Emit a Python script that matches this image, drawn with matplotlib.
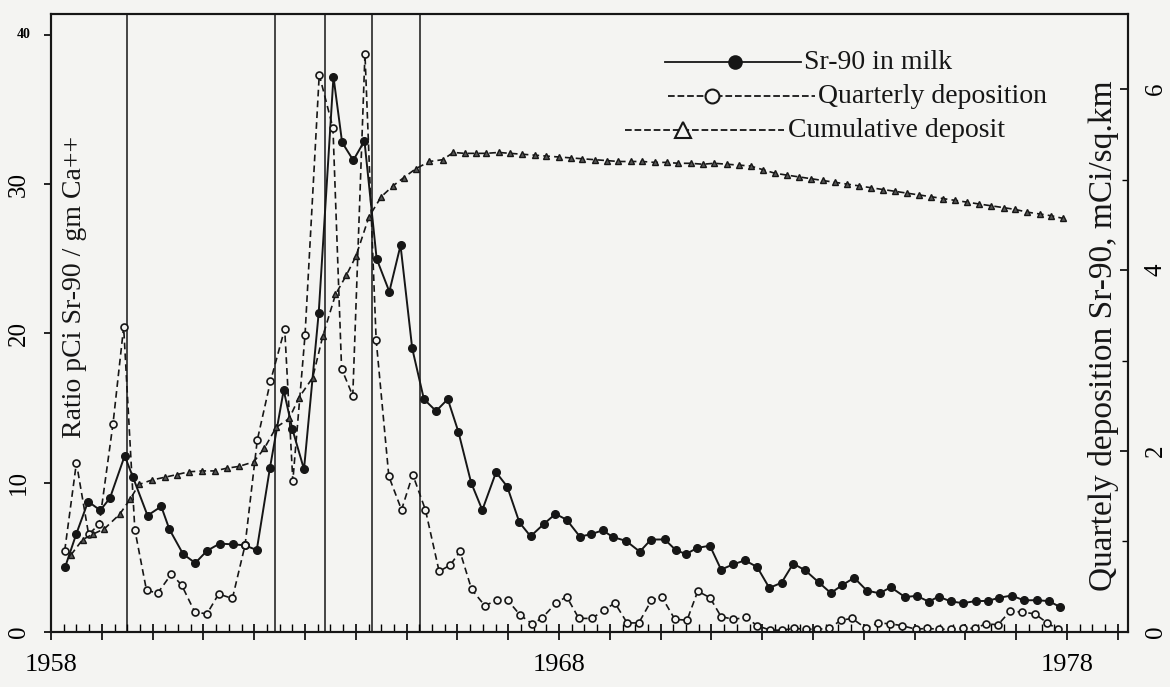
import numpy as np
import matplotlib.pyplot as plt
from matplotlib.lines import Line2D
from matplotlib.ticker import MultipleLocator

plt.rcParams['font.family'] = ['Liberation Serif', 'DejaVu Serif']

# Sr-90 in milk, pCi Sr-90 / gm Ca++ (left axis)
milk_year = [1958.28, 1958.50, 1958.73, 1958.97, 1959.16, 1959.45, 1959.61, 1959.90,
             1960.17, 1960.33, 1960.60, 1960.84, 1961.07, 1961.32, 1961.58, 1961.81,
             1962.05, 1962.31, 1962.58, 1962.75, 1962.98, 1963.27, 1963.56, 1963.73,
             1963.95, 1964.17, 1964.41, 1964.66, 1964.88, 1965.11, 1965.34, 1965.58,
             1965.81, 1966.02, 1966.27, 1966.49, 1966.76, 1966.98, 1967.22, 1967.44,
             1967.70, 1967.93, 1968.15, 1968.41, 1968.62, 1968.86, 1969.06, 1969.32,
             1969.59, 1969.81, 1970.08, 1970.30, 1970.50, 1970.72, 1970.97, 1971.19,
             1971.43, 1971.66, 1971.90, 1972.14, 1972.38, 1972.61, 1972.85, 1973.11,
             1973.35, 1973.58, 1973.81, 1974.06, 1974.31, 1974.53, 1974.81, 1975.04,
             1975.28, 1975.47, 1975.71, 1975.95, 1976.20, 1976.44, 1976.67, 1976.91,
             1977.15, 1977.40, 1977.64, 1977.86]
milk_ratio = [4.37, 6.59, 8.74, 8.15, 8.97, 11.8, 10.4, 7.80, 8.41, 6.88,
              5.22, 4.62, 5.44, 5.92, 5.87, 5.81, 5.49, 11.0, 16.2, 13.6,
              10.9, 21.4, 37.2, 32.8, 31.6, 32.9, 25.0, 22.8, 25.9, 19.0,
              15.6, 14.8, 15.6, 13.4, 10.0, 8.17, 10.7, 9.74, 7.34, 6.41,
              7.23, 7.91, 7.52, 6.39, 6.54, 6.81, 6.36, 6.10, 5.38, 6.19,
              6.20, 5.48, 5.22, 5.63, 5.78, 4.18, 4.53, 4.80, 4.35, 2.95,
              3.30, 4.58, 4.12, 3.33, 2.61, 3.15, 3.63, 2.77, 2.59, 3.00,
              2.34, 2.42, 2.03, 2.37, 2.05, 1.93, 2.07, 2.08, 2.30, 2.44,
              2.12, 2.13, 2.07, 1.68]

# quarterly deposition, mCi/sq.km (right axis)
dep_year = [1958.27, 1958.50, 1958.74, 1958.95, 1959.22, 1959.43, 1959.65, 1959.88,
            1960.10, 1960.37, 1960.57, 1960.83, 1961.07, 1961.30, 1961.57, 1961.82,
            1962.06, 1962.32, 1962.60, 1962.76, 1963.00, 1963.28, 1963.55, 1963.72,
            1963.94, 1964.18, 1964.40, 1964.65, 1964.90, 1965.12, 1965.37, 1965.64,
            1965.86, 1966.05, 1966.28, 1966.54, 1966.77, 1966.99, 1967.23, 1967.47,
            1967.66, 1967.94, 1968.15, 1968.39, 1968.65, 1968.88, 1969.10, 1969.34,
            1969.57, 1969.82, 1970.02, 1970.28, 1970.52, 1970.73, 1970.97, 1971.19,
            1971.43, 1971.68, 1971.90, 1972.16, 1972.39, 1972.63, 1972.86, 1973.08,
            1973.32, 1973.55, 1973.77, 1974.04, 1974.28, 1974.52, 1974.75, 1975.03,
            1975.24, 1975.48, 1975.72, 1975.95, 1976.19, 1976.40, 1976.64, 1976.88,
            1977.11, 1977.37, 1977.61, 1977.82]
dep_quarterly = [0.90, 1.87, 1.08, 1.19, 2.30, 3.37, 1.13, 0.46, 0.43, 0.64,
                 0.52, 0.22, 0.20, 0.42, 0.37, 0.96, 2.12, 2.77, 3.35, 1.67,
                 3.28, 6.16, 5.57, 2.91, 2.61, 6.39, 3.23, 1.72, 1.35, 1.74,
                 1.35, 0.67, 0.74, 0.89, 0.47, 0.29, 0.35, 0.35, 0.19, 0.09,
                 0.15, 0.32, 0.39, 0.15, 0.15, 0.24, 0.32, 0.10, 0.10, 0.35,
                 0.39, 0.14, 0.13, 0.45, 0.38, 0.17, 0.14, 0.16, 0.07, 0.02,
                 0.02, 0.04, 0.03, 0.03, 0.04, 0.13, 0.15, 0.04, 0.10, 0.09,
                 0.07, 0.03, 0.04, 0.03, 0.03, 0.04, 0.04, 0.09, 0.08, 0.23,
                 0.22, 0.20, 0.10, 0.03]

# cumulative deposit (right axis)
cum_year = [1958.39, 1958.62, 1958.82, 1959.05, 1959.35, 1959.56, 1959.73, 1959.99,
            1960.24, 1960.48, 1960.71, 1960.97, 1961.22, 1961.46, 1961.70, 1961.99,
            1962.20, 1962.43, 1962.69, 1962.88, 1963.15, 1963.35, 1963.60, 1963.81,
            1964.00, 1964.26, 1964.50, 1964.73, 1964.94, 1965.18, 1965.45, 1965.71,
            1965.92, 1966.14, 1966.37, 1966.57, 1966.81, 1967.04, 1967.28, 1967.52,
            1967.75, 1967.99, 1968.23, 1968.46, 1968.70, 1968.94, 1969.17, 1969.41,
            1969.64, 1969.88, 1970.12, 1970.35, 1970.59, 1970.83, 1971.06, 1971.30,
            1971.54, 1971.77, 1972.01, 1972.25, 1972.48, 1972.72, 1972.96, 1973.19,
            1973.43, 1973.67, 1973.91, 1974.14, 1974.38, 1974.62, 1974.85, 1975.09,
            1975.33, 1975.56, 1975.80, 1976.04, 1976.27, 1976.51, 1976.75, 1976.98,
            1977.22, 1977.46, 1977.69, 1977.93]
cum_deposit = [0.85, 1.02, 1.08, 1.14, 1.30, 1.47, 1.63, 1.68, 1.71, 1.74,
               1.77, 1.78, 1.78, 1.81, 1.83, 1.88, 2.03, 2.26, 2.36, 2.59,
               2.81, 3.27, 3.73, 3.94, 4.15, 4.59, 4.81, 4.93, 5.02, 5.12,
               5.20, 5.22, 5.30, 5.29, 5.29, 5.29, 5.30, 5.29, 5.28, 5.27,
               5.26, 5.25, 5.24, 5.23, 5.22, 5.21, 5.20, 5.20, 5.20, 5.19,
               5.19, 5.18, 5.18, 5.17, 5.18, 5.17, 5.16, 5.15, 5.11, 5.07,
               5.05, 5.03, 5.01, 4.99, 4.97, 4.95, 4.93, 4.91, 4.89, 4.87,
               4.85, 4.83, 4.81, 4.79, 4.77, 4.75, 4.73, 4.71, 4.69, 4.67,
               4.64, 4.62, 4.60, 4.57]

event_years = [1959.50, 1962.41, 1963.39, 1964.32, 1965.26]
label_years = [1958, 1968, 1978]

BG = '#f4f4f2'
INK = '#161616'

fig = plt.figure(figsize=(11.7, 6.87), dpi=100, facecolor=BG)
ax = fig.add_axes([0.0436, 0.0801, 0.9205, 0.8995])
ax.set_facecolor(BG)
ax2 = ax.twinx()

for yr in event_years:
    ax.axvline(yr, color=INK, lw=1.1, zorder=1)

ax.plot(milk_year, milk_ratio, '-o', color=INK, lw=1.4, ms=5.5, mfc=INK, zorder=4)
ax2.plot(dep_year, dep_quarterly, linestyle='--', dashes=(4, 2.5), marker='o',
         color=INK, lw=1.2, ms=5, mfc=BG, mew=1.2)
ax2.plot(cum_year, cum_deposit, linestyle='--', dashes=(4, 2.5), marker='^',
         color=INK, lw=1.2, ms=4.5, mfc='#555555', mew=1.0)

ax.set_xlim(1958, 1979.2)
ax.set_ylim(0, 41.4)
ax2.set_ylim(0, 6.83)

# x ticks: years with quarter minor ticks
years = np.arange(1958, 1980)
ax.set_xticks(years)
ax.set_xticklabels([str(y) if y in label_years else '' for y in years], fontsize=19)
ax.xaxis.set_minor_locator(MultipleLocator(0.25))
ax.tick_params(axis='x', which='major', direction='inout', length=12, width=1.2, pad=10)
ax.tick_params(axis='x', which='minor', direction='in', length=6, width=1.0)

ax.set_yticks([0, 10, 20, 30, 40])
ax.set_yticklabels(['0', '10', '20', '30', '40'], rotation=90, va='center', fontsize=18)
lab40 = ax.get_yticklabels()[-1]
lab40.set_fontsize(10)
lab40.set_rotation(0)
lab40.set_fontweight('bold')
ax.tick_params(axis='y', direction='out', length=5, width=1.2, pad=10)

ax2.set_yticks([0, 2, 4, 6])
ax2.set_yticklabels(['0', '2', '4', '6'], rotation=90, va='center', fontsize=18)
ax2.yaxis.set_minor_locator(MultipleLocator(1))
ax2.tick_params(axis='y', which='major', direction='in', length=6, width=1.2, pad=12)
ax2.tick_params(axis='y', which='minor', direction='in', length=4, width=1.0)

for a in (ax, ax2):
    for sp in a.spines.values():
        sp.set_linewidth(1.5)
        sp.set_color(INK)

ax.text(0.022, 0.558, 'Ratio pCi Sr-90 / gm Ca++', transform=ax.transAxes,
        rotation=90, ha='center', va='center', fontsize=20, color=INK)
ax2.text(0.977, 0.48, 'Quartely deposition Sr-90, mCi/sq.km', transform=ax2.transAxes,
         rotation=90, ha='center', va='center', fontsize=24, color=INK)

# hand-drawn style legend
legend_rows = [
    ('Sr-90 in milk', 0.922, 0.570, 0.696, 0.635, 'o', '-', INK, 9),
    ('Quarterly deposition', 0.867, 0.573, 0.709, 0.614, 'o', '--', BG, 10),
    ('Cumulative deposit', 0.812, 0.533, 0.681, 0.587, '^', '--', BG, 11),
]
for text, yy, x0, x1, xm, mk, ls, fc, ms in legend_rows:
    ax2.add_line(Line2D([x0, x1], [yy, yy], transform=ax2.transAxes, color=INK,
                        lw=1.3, linestyle=ls))
    ax2.add_line(Line2D([xm], [yy], transform=ax2.transAxes, color=INK, marker=mk,
                        ms=ms, mfc=fc, mew=1.5, linestyle='none'))
    ax2.text(x1 + 0.003, yy, text, transform=ax2.transAxes, ha='left', va='center',
             fontsize=20, color=INK)

fig.savefig('out.png', dpi=100, facecolor=BG)
